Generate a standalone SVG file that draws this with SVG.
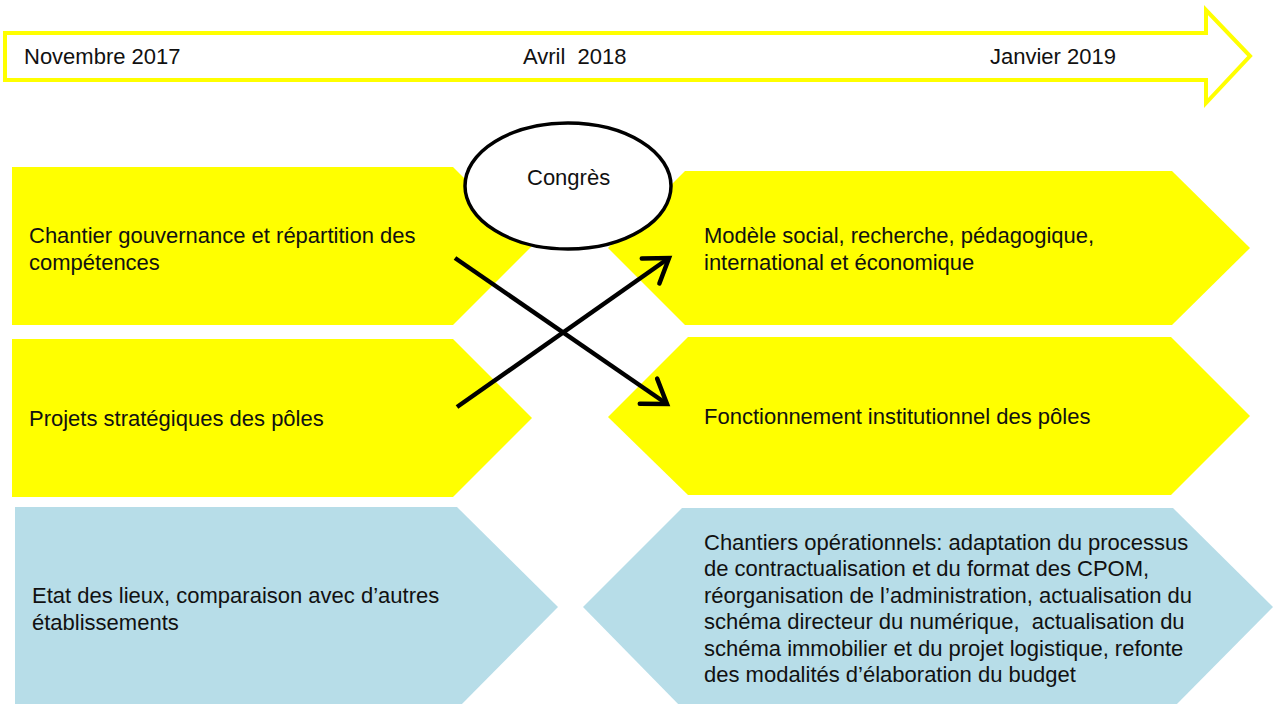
<svg xmlns="http://www.w3.org/2000/svg" width="1279" height="704" viewBox="0 0 1279 704">
<defs>
<style>
text{font-family:"Liberation Sans",Arial,sans-serif;font-size:22px;fill:#111}
.y{fill:#ffff00}
.b{fill:#b7dde8}
.conn{stroke:#000;stroke-width:4.5;fill:none}
</style>
<marker id="ah" markerWidth="8" markerHeight="8" refX="6" refY="4" orient="auto" markerUnits="strokeWidth">
<path d="M1,0.6 L6,4 L1,7.4" fill="none" stroke="#000" stroke-width="1" stroke-linecap="round" stroke-linejoin="miter"/>
</marker>
</defs>
<rect width="1279" height="704" fill="#fff"/>
<g id="timeline">
<polygon points="5,33 1206,33 1206,10 1250,56 1206,103 1206,80 5,80" fill="#fff" stroke="#ffff00" stroke-width="4"/>
<text x="24" y="64">Novembre 2017</text>
<text x="523" y="64" xml:space="preserve">Avril  2018</text>
<text x="990" y="64">Janvier 2019</text>
</g>
<g id="node-gouvernance">
<polygon class="y" points="12,167 453,167 532,246 453,325 12,325"/>
<text x="29" y="243">Chantier gouvernance et répartition des</text>
<text x="29" y="270">compétences</text>
</g>
<g id="node-projets">
<polygon class="y" points="12,339 453,339 532,418 453,497 12,497"/>
<text x="29" y="426">Projets stratégiques des pôles</text>
</g>
<g id="node-etat">
<polygon class="y b" points="15,507 457,507 558,607 458,708 15,708"/>
<text x="32" y="603">Etat des lieux, comparaison avec d’autres</text>
<text x="32" y="630">établissements</text>
</g>
<g id="node-modele">
<polygon class="y" points="608,248 685,171 1172,171 1250,248 1172,325 685,325"/>
<text x="704" y="243">Modèle social, recherche, pédagogique,</text>
<text x="704" y="270">international et économique</text>
</g>
<g id="node-fonctionnement">
<polygon class="y" points="608,417 688,337 1171,337 1250,416 1171,495 688,495"/>
<text x="704" y="424">Fonctionnement institutionnel des pôles</text>
</g>
<g id="node-chantiers">
<polygon class="b" points="583,607 682,508 1173,508 1273,607 1173,708 682,708"/>
<text x="704" y="550">Chantiers opérationnels: adaptation du processus</text>
<text x="704" y="576">de contractualisation et du format des CPOM,</text>
<text x="704" y="603">réorganisation de l’administration, actualisation du</text>
<text x="704" y="629" xml:space="preserve">schéma directeur du numérique,  actualisation du</text>
<text x="704" y="656">schéma immobilier et du projet logistique, refonte</text>
<text x="704" y="682">des modalités d’élaboration du budget</text>
</g>
<g id="node-congres">
<ellipse cx="568" cy="186" rx="103" ry="63" fill="#fff" stroke="#000" stroke-width="3.5"/>
<text x="527" y="185">Congrès</text>
</g>
<g id="connectors">
<line class="conn" x1="455" y1="258" x2="667" y2="404" marker-end="url(#ah)"/>
<line class="conn" x1="457" y1="407" x2="669" y2="258" marker-end="url(#ah)"/>
</g>
</svg>
